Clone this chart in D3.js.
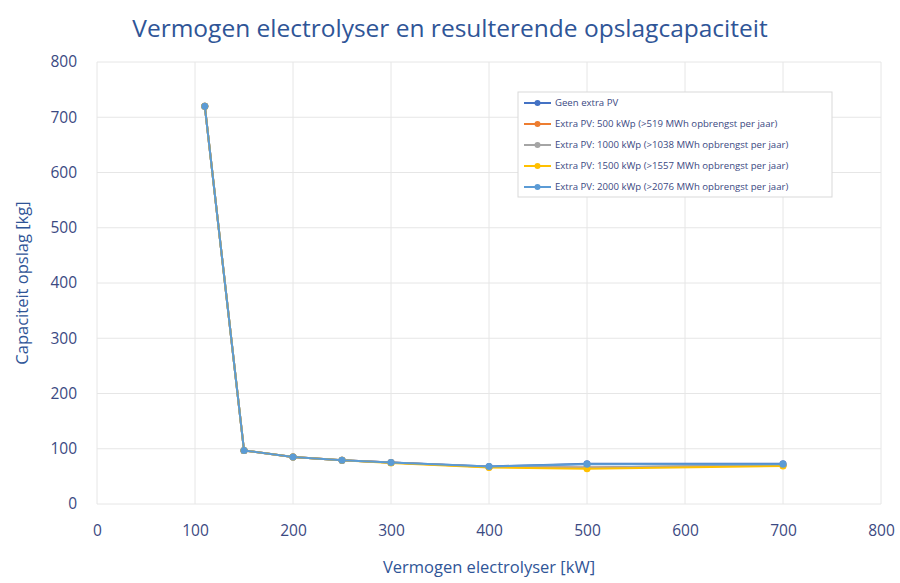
<!DOCTYPE html>
<html>
<head>
<meta charset="utf-8">
<script src="https://cdn.jsdelivr.net/npm/d3@7"></script>
<style>
  html, body { margin: 0; padding: 0; background: #ffffff; }
  svg { display: block; font-family: "Open Sans", "Noto Sans", sans-serif; }
</style>
</head>
<body>
<svg id="chart" width="900" height="583"></svg>
<script>
// Electrolyser power (kW) against the resulting storage capacity (kg)
const vermogen = [110, 150, 200, 250, 300, 400, 500, 700];

const seriesNames = [
  "Geen extra PV",
  "Extra PV: 500 kWp (>519 MWh opbrengst per jaar)",
  "Extra PV: 1000 kWp (>1038 MWh opbrengst per jaar)",
  "Extra PV: 1500 kWp (>1557 MWh opbrengst per jaar)",
  "Extra PV: 2000 kWp (>2076 MWh opbrengst per jaar)"
];

const geenExtraPV = [720, 97, 85, 79, 75, 68, 73, 73];
const extraPV500  = [720, 97, 85, 79, 75, 67, 66, 70];
const extraPV1000 = [720, 97, 85, 79, 75, 67, 66, 70];
const extraPV1500 = [720, 97, 85, 79, 74, 66, 64, 69];
const extraPV2000 = [720, 97, 85, 79, 75, 68, 72, 72];

const xTicks = [0, 100, 200, 300, 400, 500, 600, 700, 800];
const yTicks = [0, 100, 200, 300, 400, 500, 600, 700, 800];

const colors = ["#4472C4", "#ED7D31", "#A5A5A5", "#FFC000", "#5B9BD5"];
const allSeries = [geenExtraPV, extraPV500, extraPV1000, extraPV1500, extraPV2000];

const svg = d3.select("#chart");
const plot = { left: 97, right: 881, top: 62, bottom: 504 };

const x = d3.scaleLinear().domain([0, 800]).range([plot.left, plot.right]);
const y = d3.scaleLinear().domain([0, 800]).range([plot.bottom, plot.top]);

// Title
svg.append("text")
  .attr("x", 450).attr("y", 37)
  .attr("text-anchor", "middle")
  .attr("font-size", 24.5)
  .attr("fill", "#2F5597")
  .text("Vermogen electrolyser en resulterende opslagcapaciteit");

// Gridlines
const grid = svg.append("g");
grid.selectAll("line.h").data(yTicks).join("line")
  .attr("class", "h")
  .attr("x1", plot.left).attr("x2", plot.right)
  .attr("y1", d => y(d)).attr("y2", d => y(d))
  .attr("stroke", "#E6E6E6").attr("stroke-width", 1);
grid.selectAll("line.v").data(xTicks).join("line")
  .attr("class", "v")
  .attr("y1", plot.top).attr("y2", plot.bottom)
  .attr("x1", d => x(d)).attr("x2", d => x(d))
  .attr("stroke", "#E6E6E6").attr("stroke-width", 1);

// Axes (labels only; lines come from the grid)
const xAxis = svg.append("g")
  .attr("transform", `translate(0,${plot.bottom + 21})`)
  .call(d3.axisBottom(x).tickValues(xTicks).tickSize(0).tickPadding(0));
const yAxis = svg.append("g")
  .attr("transform", `translate(${plot.left - 20},0)`)
  .call(d3.axisLeft(y).tickValues(yTicks).tickSize(0).tickPadding(0));
[xAxis, yAxis].forEach(a => {
  a.select(".domain").remove();
  a.selectAll("text")
    .attr("font-family", "\"Open Sans\", sans-serif")
    .attr("font-size", 15.5)
    .attr("fill", "#3B4982");
});

// Axis titles
svg.append("text")
  .attr("x", (plot.left + plot.right) / 2).attr("y", 573)
  .attr("text-anchor", "middle")
  .attr("font-size", 16.5)
  .attr("fill", "#2F5597")
  .text("Vermogen electrolyser [kW]");
svg.append("text")
  .attr("transform", `translate(28,${(plot.top + plot.bottom) / 2}) rotate(-90)`)
  .attr("text-anchor", "middle")
  .attr("font-size", 16.5)
  .attr("fill", "#2F5597")
  .text("Capaciteit opslag [kg]");

// Series lines and markers
const line = d3.line().x((d, i) => x(vermogen[i])).y(d => y(d));
allSeries.forEach((vals, s) => {
  const g = svg.append("g");
  g.append("path")
    .datum(vals)
    .attr("d", line)
    .attr("fill", "none")
    .attr("stroke", colors[s])
    .attr("stroke-width", 2)
    .attr("stroke-linejoin", "round");
  g.selectAll("circle").data(vals).join("circle")
    .attr("cx", (d, i) => x(vermogen[i]))
    .attr("cy", d => y(d))
    .attr("r", 3.5)
    .attr("fill", colors[s]);
});

// Legend
const legend = svg.append("g").attr("transform", "translate(518,92)");
legend.append("rect")
  .attr("width", 314).attr("height", 105)
  .attr("fill", "#ffffff")
  .attr("stroke", "#D9D9D9");
seriesNames.forEach((name, s) => {
  const row = legend.append("g").attr("transform", `translate(0,${11 + s * 21})`);
  row.append("line")
    .attr("x1", 6).attr("x2", 33)
    .attr("stroke", colors[s]).attr("stroke-width", 2);
  row.append("circle")
    .attr("cx", 19.5).attr("r", 3).attr("fill", colors[s]);
  row.append("text")
    .attr("x", 37).attr("dy", "0.35em")
    .attr("font-size", 9.6)
    .attr("fill", "#3B4982")
    .text(name);
});
</script>
</body>
</html>
